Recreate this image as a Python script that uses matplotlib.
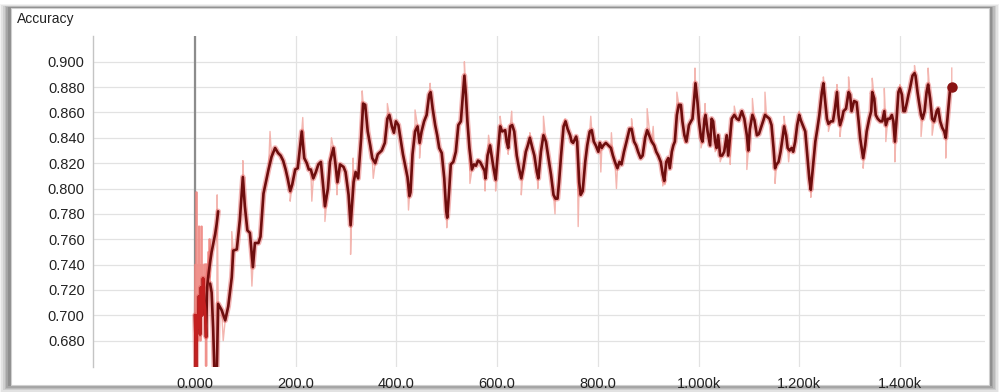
import matplotlib
matplotlib.use("Agg")
import matplotlib.pyplot as plt
from matplotlib.patches import Rectangle

W, H = 1001, 392

# first (short) run, smoothed
steps_a = [0, 2, 4, 6, 8, 10, 12, 14, 16, 18, 20, 22, 24, 27, 30, 33, 36, 40, 43, 46]
acc_a = [0.700, 0.655, 0.700, 0.690, 0.715, 0.685, 0.722, 0.700, 0.729, 0.712,
         0.705, 0.683, 0.722, 0.733, 0.742, 0.750, 0.756, 0.764, 0.772, 0.782]

# main run, smoothed
steps_b = [30, 33, 36, 39, 43, 46, 53, 60, 66, 73, 76, 83, 89, 95, 99, 104, 109, 115, 119,
           126, 130, 136, 146, 152, 159, 165, 170, 175, 180, 184, 189, 193, 199, 204, 209,
           212, 217, 222, 226, 230, 235, 240, 245, 250, 255, 258, 264, 268, 275, 279, 283,
           288, 295, 299, 305, 309, 315, 319, 324, 330, 334, 338, 343, 348, 352, 358, 363,
           371, 377, 382, 386, 391, 395, 399, 404, 409, 413, 417, 422, 426, 428, 432, 437,
           442, 446, 450, 455, 460, 465, 468, 472, 477, 481, 485, 490, 495, 499, 501, 505,
           508, 513, 518, 523, 528, 532, 535, 538, 541, 545, 550, 554, 558, 562, 566, 570,
           575, 577, 581, 586, 589, 593, 597, 601, 606, 610, 616, 619, 622, 626, 630, 634,
           639, 644, 648, 652, 657, 661, 665, 670, 674, 679, 682, 687, 692, 697, 702, 707,
           712, 716, 720, 723, 727, 732, 736, 740, 745, 748, 751, 757, 759, 763, 766, 770,
           775, 779, 784, 788, 792, 796, 801, 804, 808, 811, 816, 821, 826, 830, 834, 839,
           843, 847, 852, 857, 863, 867, 872, 876, 880, 885, 889, 894, 898, 904, 907, 912,
           916, 920, 925, 929, 932, 936, 940, 943, 947, 950, 953, 957, 961, 965, 968, 972,
           976, 981, 985, 988, 992, 994, 998, 1001, 1005, 1008, 1012, 1014, 1018, 1023,
           1026, 1029, 1033, 1036, 1039, 1043, 1047, 1051, 1056, 1059, 1063, 1066, 1071,
           1076, 1080, 1086, 1091, 1096, 1099, 1102, 1107, 1111, 1116, 1120, 1125, 1129,
           1132, 1135, 1141, 1145, 1149, 1152, 1155, 1159, 1163, 1167, 1170, 1174, 1177,
           1181, 1185, 1188, 1192, 1196, 1200, 1203, 1207, 1212, 1216, 1220, 1223, 1227,
           1232, 1236, 1240, 1245, 1248, 1251, 1255, 1258, 1263, 1267, 1271, 1275, 1278,
           1281, 1285, 1288, 1293, 1298, 1301, 1304, 1309, 1314, 1318, 1321, 1324, 1327,
           1331, 1334, 1339, 1343, 1345, 1349, 1352, 1356, 1361, 1365, 1369, 1372, 1376,
           1380, 1384, 1387, 1390, 1394, 1397, 1400, 1404, 1407, 1410, 1414, 1417, 1420,
           1425, 1429, 1431, 1435, 1438, 1442, 1445, 1449, 1453, 1456, 1460, 1464, 1468,
           1473, 1476, 1480, 1484, 1488, 1491, 1495, 1500, 1503]
acc_b = [0.725, 0.718, 0.690, 0.650, 0.650, 0.709, 0.704, 0.696, 0.707, 0.730, 0.751, 0.752,
         0.775, 0.809, 0.786, 0.767, 0.765, 0.738, 0.757, 0.757, 0.762, 0.796, 0.815, 0.825,
         0.832, 0.828, 0.826, 0.822, 0.815, 0.808, 0.798, 0.803, 0.815, 0.816, 0.834, 0.845,
         0.824, 0.820, 0.815, 0.815, 0.808, 0.813, 0.819, 0.821, 0.800, 0.786, 0.800, 0.821,
         0.832, 0.819, 0.805, 0.819, 0.817, 0.813, 0.795, 0.771, 0.805, 0.813, 0.808, 0.840,
         0.867, 0.866, 0.845, 0.834, 0.824, 0.820, 0.827, 0.830, 0.836, 0.855, 0.858, 0.849,
         0.844, 0.853, 0.850, 0.837, 0.827, 0.819, 0.809, 0.794, 0.797, 0.827, 0.845, 0.849,
         0.836, 0.845, 0.853, 0.858, 0.874, 0.876, 0.863, 0.850, 0.842, 0.832, 0.828, 0.808,
         0.782, 0.777, 0.800, 0.819, 0.821, 0.829, 0.850, 0.853, 0.874, 0.889, 0.874, 0.853,
         0.832, 0.815, 0.819, 0.818, 0.822, 0.821, 0.818, 0.814, 0.808, 0.826, 0.834, 0.826,
         0.816, 0.807, 0.826, 0.849, 0.845, 0.846, 0.837, 0.832, 0.849, 0.850, 0.845, 0.826,
         0.815, 0.808, 0.816, 0.829, 0.834, 0.840, 0.832, 0.826, 0.813, 0.808, 0.829, 0.842,
         0.837, 0.824, 0.811, 0.795, 0.792, 0.792, 0.805, 0.826, 0.849, 0.853, 0.847, 0.842,
         0.837, 0.836, 0.841, 0.837, 0.805, 0.795, 0.798, 0.821, 0.834, 0.845, 0.846, 0.837,
         0.834, 0.829, 0.836, 0.832, 0.834, 0.836, 0.834, 0.832, 0.826, 0.821, 0.816, 0.821,
         0.819, 0.829, 0.837, 0.847, 0.847, 0.837, 0.834, 0.829, 0.824, 0.826, 0.840, 0.846,
         0.840, 0.837, 0.834, 0.829, 0.826, 0.821, 0.811, 0.806, 0.821, 0.824, 0.816, 0.829,
         0.834, 0.837, 0.858, 0.866, 0.866, 0.853, 0.842, 0.837, 0.850, 0.853, 0.855, 0.874,
         0.883, 0.868, 0.853, 0.840, 0.837, 0.855, 0.858, 0.845, 0.834, 0.855, 0.853, 0.837,
         0.832, 0.842, 0.826, 0.826, 0.829, 0.842, 0.826, 0.842, 0.855, 0.858, 0.855, 0.854,
         0.861, 0.855, 0.842, 0.830, 0.847, 0.858, 0.854, 0.842, 0.843, 0.849, 0.854, 0.858,
         0.857, 0.855, 0.850, 0.832, 0.816, 0.819, 0.821, 0.829, 0.840, 0.849, 0.842, 0.832,
         0.830, 0.832, 0.829, 0.837, 0.850, 0.858, 0.854, 0.850, 0.845, 0.826, 0.808, 0.799,
         0.816, 0.837, 0.847, 0.858, 0.876, 0.883, 0.871, 0.855, 0.851, 0.853, 0.853, 0.863,
         0.876, 0.858, 0.850, 0.855, 0.861, 0.863, 0.876, 0.874, 0.861, 0.869, 0.868, 0.853,
         0.840, 0.832, 0.824, 0.834, 0.845, 0.855, 0.861, 0.876, 0.871, 0.858, 0.855, 0.853,
         0.853, 0.861, 0.850, 0.855, 0.855, 0.858, 0.853, 0.837, 0.858, 0.876, 0.879, 0.874,
         0.861, 0.861, 0.868, 0.874, 0.879, 0.889, 0.891, 0.889, 0.876, 0.868, 0.858, 0.855,
         0.861, 0.876, 0.882, 0.871, 0.855, 0.853, 0.861, 0.863, 0.853, 0.848, 0.845, 0.840,
         0.858, 0.880, 0.880]

# raw values at the start (noisy)
raw_early_steps = [0, 1, 2, 3, 4, 5, 6, 7, 8, 9, 10, 11, 12, 13, 14, 15, 16, 17, 18, 19,
                   20, 21, 22, 23, 24, 25, 26, 27, 28, 29, 30]
raw_early_acc = [0.700, 0.740, 0.660, 0.797, 0.700, 0.740, 0.680, 0.735, 0.770, 0.690,
                 0.740, 0.680, 0.730, 0.770, 0.700, 0.740, 0.720, 0.730, 0.700, 0.740,
                 0.710, 0.740, 0.660, 0.740, 0.720, 0.740, 0.730, 0.750, 0.730, 0.760, 0.740]

# raw spikes visible outside the smoothed curve
spike_steps = [44, 56, 73, 95, 113, 149, 189, 214, 232, 258, 271, 282, 309, 314, 332, 354,
               382, 424, 437, 446, 467, 500, 535, 546, 576, 583, 597, 606, 622, 629, 648,
               665, 681, 692, 715, 735, 761, 786, 806, 827, 837, 867, 898, 910, 929, 933,
               957, 973, 993, 1005, 1013, 1033, 1043, 1063, 1071, 1096, 1107, 1132, 1152,
               1170, 1179, 1200, 1223, 1248, 1258, 1275, 1281, 1298, 1327, 1345, 1369, 1372,
               1390, 1400, 1429, 1442, 1456, 1464, 1491, 1503]
spike_acc = [0.795, 0.680, 0.766, 0.822, 0.723, 0.845, 0.790, 0.856, 0.790, 0.774, 0.840,
             0.795, 0.748, 0.824, 0.877, 0.808, 0.867, 0.783, 0.862, 0.824, 0.883, 0.769,
             0.900, 0.804, 0.798, 0.842, 0.798, 0.857, 0.827, 0.861, 0.795, 0.844, 0.800,
             0.857, 0.780, 0.855, 0.770, 0.857, 0.813, 0.844, 0.800, 0.855, 0.863, 0.849,
             0.802, 0.803, 0.876, 0.836, 0.895, 0.832, 0.867, 0.829, 0.821, 0.819, 0.865,
             0.815, 0.871, 0.876, 0.804, 0.857, 0.821, 0.861, 0.793, 0.888, 0.845, 0.882,
             0.841, 0.888, 0.816, 0.887, 0.879, 0.837, 0.821, 0.882, 0.897, 0.841, 0.895,
             0.842, 0.824, 0.895]

x_ticks = [0, 200, 400, 600, 800, 1000, 1200, 1400]
x_labels = ["0.000", "200.0", "400.0", "600.0", "800.0", "1.000k", "1.200k", "1.400k"]
y_ticks = [0.68, 0.70, 0.72, 0.74, 0.76, 0.78, 0.80, 0.82, 0.84, 0.86, 0.88, 0.90]

plt.rcParams['font.family'] = ['Liberation Sans', 'DejaVu Sans']

fig = plt.figure(figsize=(W / 100, H / 100), dpi=100)
fig.patch.set_facecolor('white')


def frect(x0, y0, x1, y1, **kw):
    # rectangle given in pixel coords, origin top-left
    r = Rectangle((x0 / W, 1 - y1 / H), (x1 - x0) / W, (y1 - y0) / H,
                  transform=fig.transFigure, **kw)
    fig.add_artist(r)


# card with soft shadow (heavier on the left and bottom)
for i, a in enumerate([0.07, 0.09, 0.12, 0.15, 0.19, 0.24]):
    d = 6 - i
    frect(10 - d * 1.8, 8 - d * 0.6, 990 + d * 1.5, 385 + d * 1.3,
          facecolor='#4a4a4a', edgecolor='none', alpha=a, zorder=0)
frect(11, 8, 989, 385, facecolor='white', edgecolor='#d0d0d0', lw=0.8, zorder=1)

fig.text(17 / W, 1 - 19 / H, "Accuracy", fontsize=10, color='#222222',
         ha='left', va='center', zorder=5)

ax = fig.add_axes([93 / W, 1 - 367 / H, (985 - 93) / W, (367 - 36) / H])
ax.set_zorder(3)
ax.patch.set_alpha(0)

ax.set_xlim(-202.6, 1569)
ax.set_ylim(0.6592, 0.9203)

# raw curve: main run points plus spikes, ordered by step
raw_pts = sorted(list(zip(steps_b, acc_b)) + list(zip(spike_steps, spike_acc)),
                 key=lambda p: p[0])
raw_x = raw_early_steps + [p[0] for p in raw_pts]
raw_y = raw_early_acc + [p[1] for p in raw_pts]

ax.plot(raw_x, raw_y, color='#f2a9a2', lw=1.0, alpha=0.85, zorder=2)
ax.plot(raw_early_steps, raw_early_acc, color='#ee7a74', lw=1.8, alpha=0.6, zorder=2)

for sx, sy in [(steps_a, acc_a), (steps_b, acc_b)]:
    ax.plot(sx, sy, color='#e04848', lw=4.0, alpha=0.4, zorder=3,
            solid_joinstyle='round', solid_capstyle='round')
    ax.plot(sx, sy, color='#6e0e0e', lw=1.9, zorder=4,
            solid_joinstyle='round', solid_capstyle='round')
ax.plot(steps_a[:12], acc_a[:12], color='#c42020', lw=1.9, zorder=4)

ax.plot([steps_b[-1]], [acc_b[-1]], 'o', color='#8a1414', ms=6.5, zorder=5)

ax.axvline(0, color='#8c8c8c', lw=1.6, zorder=1)

ax.set_xticks(x_ticks)
ax.set_xticklabels(x_labels)
ax.set_yticks(y_ticks)
ax.set_yticklabels([f"{v:.3f}" for v in y_ticks])
ax.grid(True, color='#e2e2e2', lw=0.9, zorder=0)
ax.set_axisbelow(True)

for s in ['top', 'right', 'bottom']:
    ax.spines[s].set_visible(False)
ax.spines['left'].set_color('#c4c4c4')
ax.spines['left'].set_linewidth(1.0)

ax.tick_params(axis='both', length=0, labelsize=10.5, labelcolor='#222222')
ax.tick_params(axis='y', pad=6)
ax.tick_params(axis='x', pad=7)

fig.savefig('out.png', dpi=100, facecolor=fig.get_facecolor())
